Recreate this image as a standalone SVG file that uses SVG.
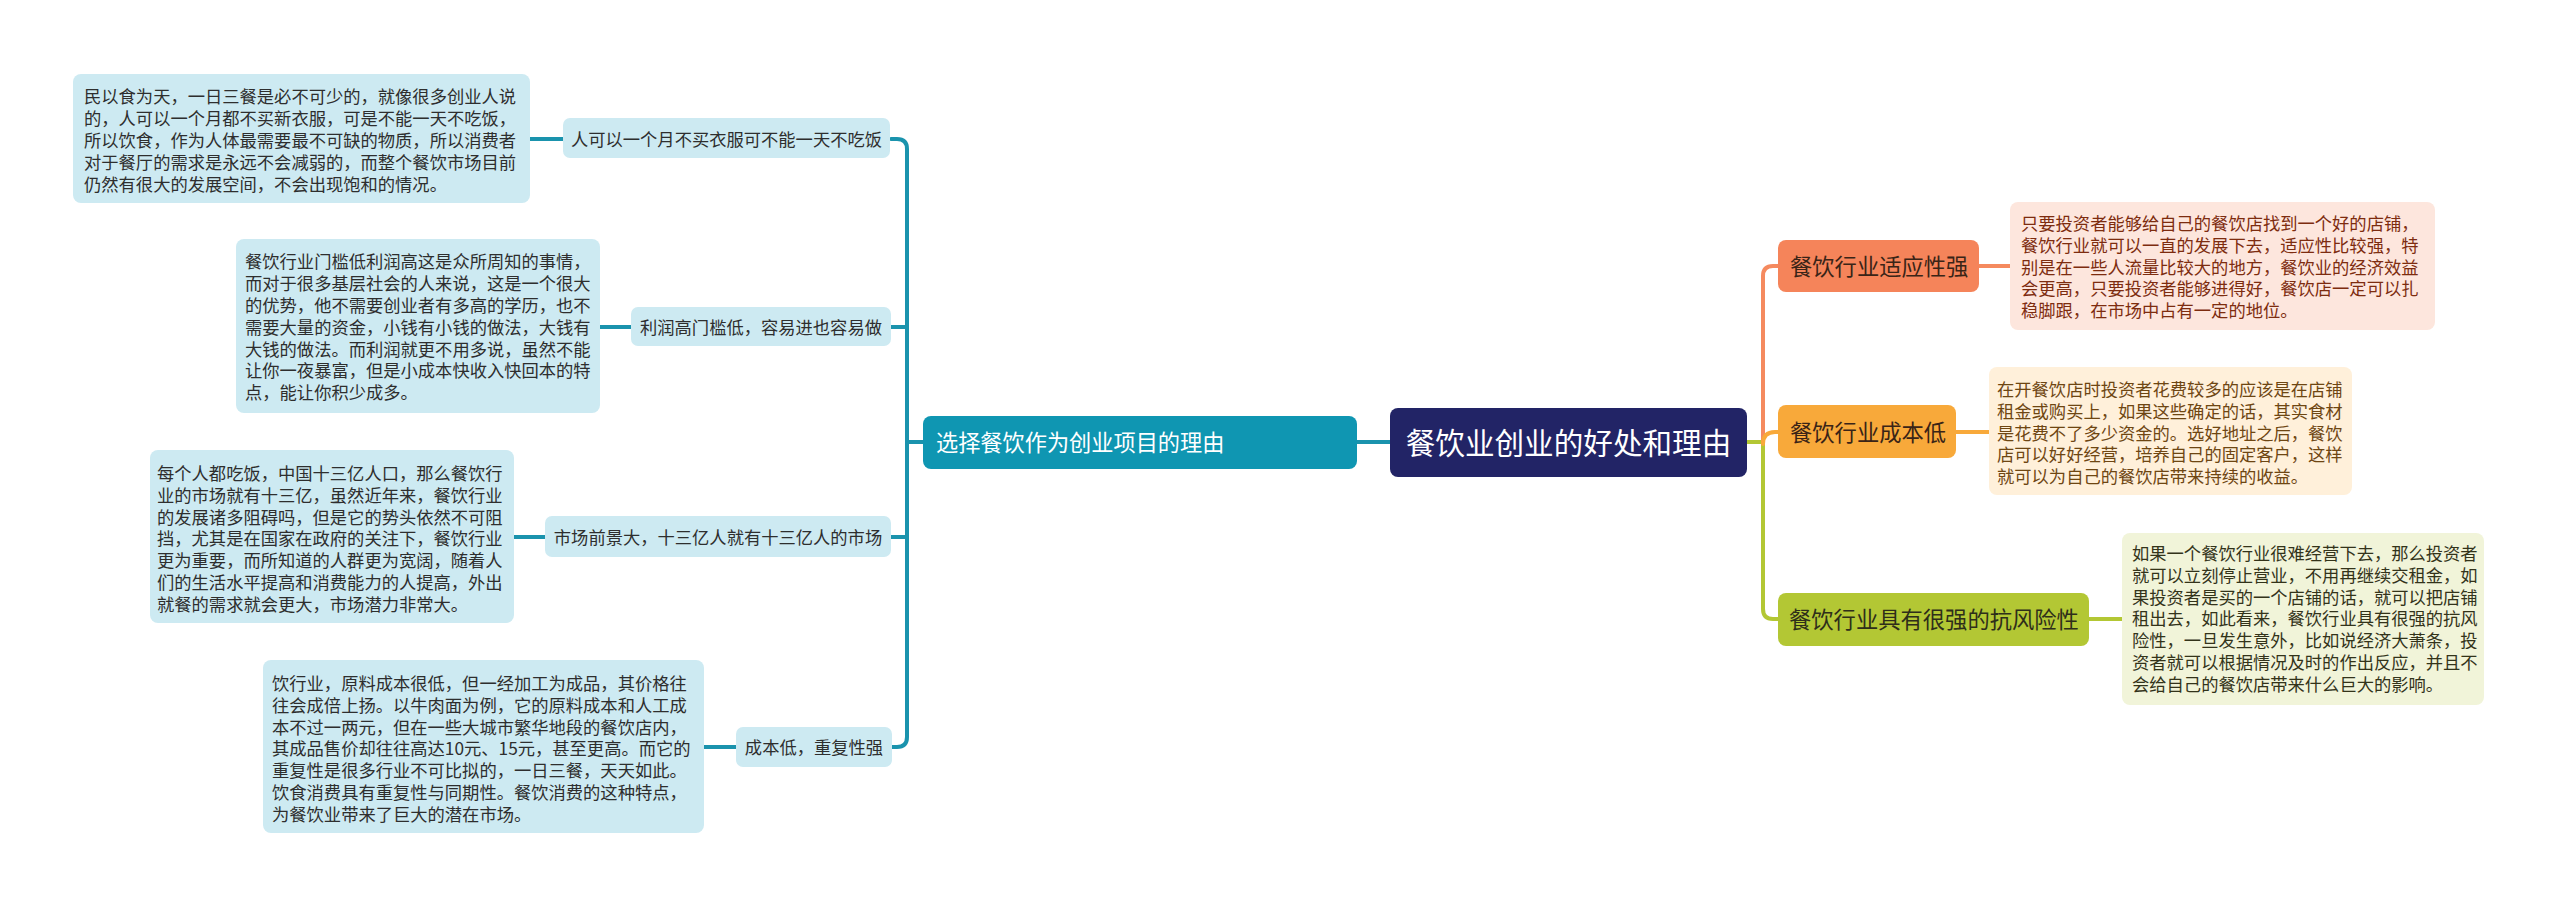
<svg xmlns="http://www.w3.org/2000/svg" width="2560" height="908" viewBox="0 0 2560 908">
<style>
text{font-family:"Noto Sans CJK SC","Noto Sans",sans-serif;}
.lb{fill:#cdeaf2;}
.t{font-size:17.3px;fill:#2e2e2e;}
.tm{text-anchor:middle;}
.c{fill:none;stroke-width:4;stroke-linecap:round;}
.teal{stroke:#1a93ad;}
.b1{font-size:22.3px;fill:#3a2417;}
</style>
<rect width="2560" height="908" fill="#ffffff"/>
<g id="connectors">
<path class="c teal" d="M530 139H563M600 327H631M514 537H545M704 747H736"/>
<path class="c teal" d="M891 139H897Q907 139 907 149V737Q907 747 897 747H892M891 327H907M891 537H907M907 442H923" stroke-width="3.5"/>
<path class="c teal" d="M1357 442H1390" stroke-width="3"/>
<path class="c" stroke="#b3c734" d="M1747 442H1763V609Q1763 619 1773 619H1778M2089 619H2122"/>
<path class="c" stroke="#f58a5f" d="M1763 442V276Q1763 266 1773 266H1778M1979 266H2010"/>
<path class="c" stroke="#f8a93a" d="M1763 444Q1763 432 1775 432H1778M1956 432H1989"/>
</g>
<g id="root">
<rect x="1390" y="408" width="357" height="69" rx="8" fill="#222466"/>
<text x="1568.5" y="454" class="tm" font-size="29.6" fill="#ffffff">餐饮业创业的好处和理由</text>
</g>
<g id="main-left">
<rect x="923" y="416" width="434" height="53" rx="8" fill="#0f96b2"/>
<text x="936" y="451.4" font-size="22.2" fill="#ffffff">选择餐饮作为创业项目的理由</text>
</g>
<g id="sub1">
<rect class="lb" x="563" y="118" width="327" height="40" rx="7"/>
<text class="t tm" x="726.5" y="145.6">人可以一个月不买衣服可不能一天不吃饭</text>
</g>
<g id="leaf1">
<rect class="lb" x="73" y="74" width="457" height="129" rx="8"/>
<text class="t" x="84" y="103.3">民以食为天，一日三餐是必不可少的，就像很多创业人说</text>
<text class="t" x="84" y="125.1">的，人可以一个月都不买新衣服，可是不能一天不吃饭，</text>
<text class="t" x="84" y="146.9">所以饮食，作为人体最需要最不可缺的物质，所以消费者</text>
<text class="t" x="84" y="168.7">对于餐厅的需求是永远不会减弱的，而整个餐饮市场目前</text>
<text class="t" x="84" y="190.5">仍然有很大的发展空间，不会出现饱和的情况。</text>
</g>
<g id="sub2">
<rect class="lb" x="631" y="307" width="260" height="39" rx="7"/>
<text class="t tm" x="761" y="333.6">利润高门槛低，容易进也容易做</text>
</g>
<g id="leaf2">
<rect class="lb" x="236" y="239" width="364" height="174" rx="8"/>
<text class="t" x="245" y="268.3">餐饮行业门槛低利润高这是众所周知的事情，</text>
<text class="t" x="245" y="290.1">而对于很多基层社会的人来说，这是一个很大</text>
<text class="t" x="245" y="311.9">的优势，他不需要创业者有多高的学历，也不</text>
<text class="t" x="245" y="333.7">需要大量的资金，小钱有小钱的做法，大钱有</text>
<text class="t" x="245" y="355.5">大钱的做法。而利润就更不用多说，虽然不能</text>
<text class="t" x="245" y="377.3">让你一夜暴富，但是小成本快收入快回本的特</text>
<text class="t" x="245" y="399.1">点，能让你积少成多。</text>
</g>
<g id="sub3">
<rect class="lb" x="545" y="516" width="346" height="41" rx="7"/>
<text class="t tm" x="718" y="543.6">市场前景大，十三亿人就有十三亿人的市场</text>
</g>
<g id="leaf3">
<rect class="lb" x="150" y="450" width="364" height="173" rx="8"/>
<text class="t" x="157" y="479.9">每个人都吃饭，中国十三亿人口，那么餐饮行</text>
<text class="t" x="157" y="501.7">业的市场就有十三亿，虽然近年来，餐饮行业</text>
<text class="t" x="157" y="523.5">的发展诸多阻碍吗，但是它的势头依然不可阻</text>
<text class="t" x="157" y="545.3">挡，尤其是在国家在政府的关注下，餐饮行业</text>
<text class="t" x="157" y="567.1">更为重要，而所知道的人群更为宽阔，随着人</text>
<text class="t" x="157" y="588.9">们的生活水平提高和消费能力的人提高，外出</text>
<text class="t" x="157" y="610.7">就餐的需求就会更大，市场潜力非常大。</text>
</g>
<g id="sub4">
<rect class="lb" x="736" y="727" width="156" height="40" rx="7"/>
<text class="t tm" x="814" y="753.6">成本低，重复性强</text>
</g>
<g id="leaf4">
<rect class="lb" x="263" y="660" width="441" height="173" rx="8"/>
<text class="t" x="272" y="690">饮行业，原料成本很低，但一经加工为成品，其价格往</text>
<text class="t" x="272" y="711.8">往会成倍上扬。以牛肉面为例，它的原料成本和人工成</text>
<text class="t" x="272" y="733.6">本不过一两元，但在一些大城市繁华地段的餐饮店内，</text>
<text class="t" x="272" y="755.4">其成品售价却往往高达10元、15元，甚至更高。而它的</text>
<text class="t" x="272" y="777.2">重复性是很多行业不可比拟的，一日三餐，天天如此。</text>
<text class="t" x="272" y="799">饮食消费具有重复性与同期性。餐饮消费的这种特点，</text>
<text class="t" x="272" y="820.8">为餐饮业带来了巨大的潜在市场。</text>
</g>
<g id="branch-adapt">
<rect x="1778" y="240" width="201" height="52" rx="8" fill="#f5845a"/>
<text class="b1" x="1790" y="274.5">餐饮行业适应性强</text>
</g>
<g id="leaf-adapt">
<rect x="2010" y="202" width="425" height="128" rx="8" fill="#fde6dd"/>
<g class="t" style="fill:#7d2c0f">
<text x="2021" y="230">只要投资者能够给自己的餐饮店找到一个好的店铺，</text>
<text x="2021" y="251.8">餐饮行业就可以一直的发展下去，适应性比较强，特</text>
<text x="2021" y="273.6">别是在一些人流量比较大的地方，餐饮业的经济效益</text>
<text x="2021" y="295.4">会更高，只要投资者能够进得好，餐饮店一定可以扎</text>
<text x="2021" y="317.2">稳脚跟，在市场中占有一定的地位。</text>
</g>
</g>
<g id="branch-cost">
<rect x="1778" y="405" width="178" height="53" rx="8" fill="#f8a93a"/>
<text class="b1" x="1790" y="440.5">餐饮行业成本低</text>
</g>
<g id="leaf-cost">
<rect x="1989" y="367" width="363" height="128" rx="8" fill="#fff0da"/>
<g class="t" style="fill:#6e4612">
<text x="1997" y="396">在开餐饮店时投资者花费较多的应该是在店铺</text>
<text x="1997" y="417.8">租金或购买上，如果这些确定的话，其实食材</text>
<text x="1997" y="439.6">是花费不了多少资金的。选好地址之后，餐饮</text>
<text x="1997" y="461.4">店可以好好经营，培养自己的固定客户，这样</text>
<text x="1997" y="483.2">就可以为自己的餐饮店带来持续的收益。</text>
</g>
</g>
<g id="branch-risk">
<rect x="1778" y="593" width="311" height="53" rx="8" fill="#b3c734"/>
<text class="b1" x="1789" y="627.5" style="fill:#2e2e1a">餐饮行业具有很强的抗风险性</text>
</g>
<g id="leaf-risk">
<rect x="2122" y="533" width="362" height="172" rx="8" fill="#f1f4d9"/>
<g class="t" style="fill:#33331a">
<text x="2132" y="560">如果一个餐饮行业很难经营下去，那么投资者</text>
<text x="2132" y="581.8">就可以立刻停止营业，不用再继续交租金，如</text>
<text x="2132" y="603.6">果投资者是买的一个店铺的话，就可以把店铺</text>
<text x="2132" y="625.4">租出去，如此看来，餐饮行业具有很强的抗风</text>
<text x="2132" y="647.2">险性，一旦发生意外，比如说经济大萧条，投</text>
<text x="2132" y="669">资者就可以根据情况及时的作出反应，并且不</text>
<text x="2132" y="690.8">会给自己的餐饮店带来什么巨大的影响。</text>
</g>
</g>
</svg>
